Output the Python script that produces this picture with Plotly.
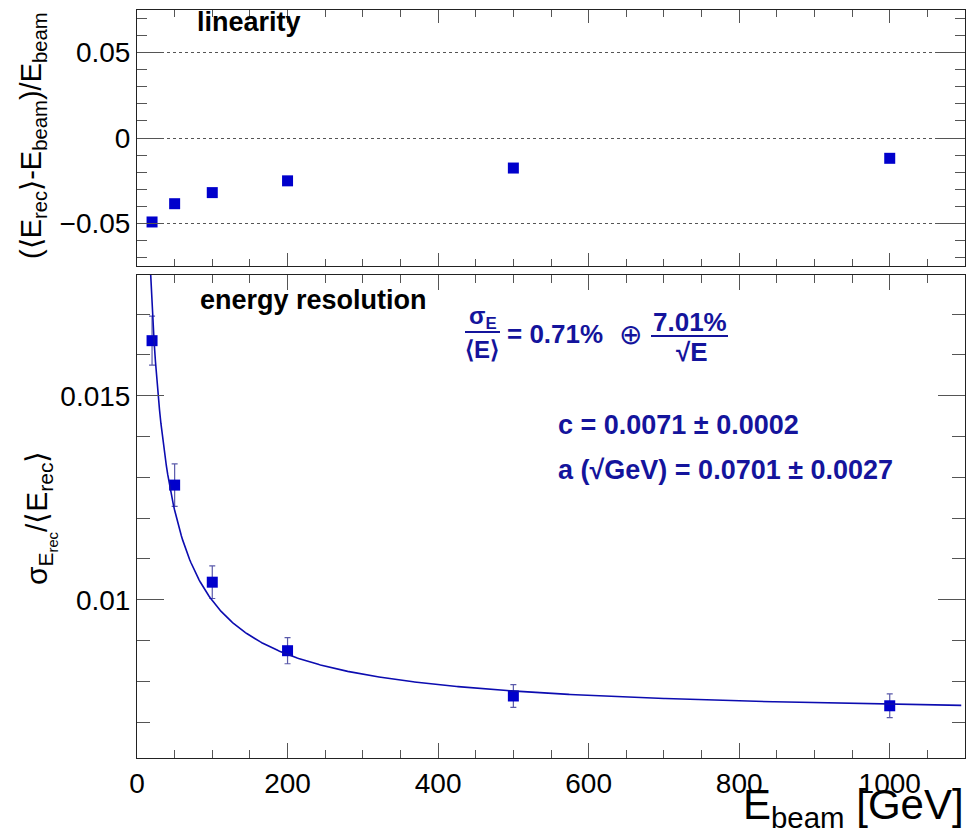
import numpy as np
import plotly.graph_objects as go

# ---------------- data ----------------
E_beam = [20, 50, 100, 200, 500, 1000]
linearity = [-0.0492, -0.0385, -0.0320, -0.0251, -0.0176, -0.0119]
resolution = [0.01635, 0.01281, 0.01043, 0.00875, 0.00764, 0.00740]
resolution_err = [0.0006, 0.00052, 0.0004, 0.00032, 0.00028, 0.00029]
fit_c = 0.0071   # constant term
fit_a = 0.0701   # stochastic term (sqrt(GeV))

# fit curve sigma/E = c (+) a/sqrt(E)
E_fit = np.linspace(10, 1095, 600)
res_fit = np.sqrt(fit_c**2 + fit_a**2 / E_fit)

# ---------------- layout geometry ----------------
W, H = 967, 838
ML, MR, MT, MB = 137, 2, 10, 80
PW, PH = W - ML - MR, H - MT - MB


def px(xp):
    return (xp - ML) / PW


def py(yp):
    return (H - MB - yp) / PH


FONT = "Liberation Sans, Arial, Helvetica, sans-serif"
MARK = "#0000cc"
TXT = "#14149c"

fig = go.Figure()

# top: linearity
fig.add_trace(go.Scatter(
    x=E_beam, y=linearity, mode="markers",
    marker=dict(symbol="square", size=11, color=MARK),
    xaxis="x2", yaxis="y2", showlegend=False))

# bottom: resolution
fig.add_trace(go.Scatter(
    x=E_beam, y=resolution, mode="markers",
    marker=dict(symbol="square", size=11, color=MARK),
    error_y=dict(type="data", array=resolution_err, visible=True,
                 color="#5a5aaa", thickness=1.2, width=3),
    xaxis="x", yaxis="y", showlegend=False))

fig.add_trace(go.Scatter(
    x=E_fit, y=res_fit, mode="lines",
    line=dict(color="#0c0cb0", width=1.6),
    xaxis="x", yaxis="y", showlegend=False, hoverinfo="skip"))

common_axis = dict(
    showline=True, linecolor="#222", linewidth=1, mirror="ticks",
    ticks="inside", tickcolor="#555", tickwidth=1,
    zeroline=False, showgrid=False,
    tickfont=dict(family=FONT, size=28, color="black"),
)

top_y0 = py(266)
bot_y1 = py(275)

fig.update_layout(
    width=W, height=H,
    margin=dict(l=ML, r=MR, t=MT, b=MB),
    paper_bgcolor="white", plot_bgcolor="white",
    font=dict(family=FONT, color="black"),
    xaxis=dict(common_axis, domain=[0, 1], range=[0, 1100], anchor="y",
               dtick=200, tick0=0, ticklen=15,
               minor=dict(dtick=50, ticklen=8, ticks="inside", tickcolor="#555")),
    yaxis=dict(common_axis, domain=[0, bot_y1], range=[0.00612, 0.01796], anchor="x",
               dtick=0.005, tick0=0, ticklen=27,
               minor=dict(dtick=0.001, ticklen=13, ticks="inside", tickcolor="#555")),
    xaxis2=dict(common_axis, domain=[0, 1], range=[0, 1100], anchor="y2",
                dtick=200, tick0=0, ticklen=13, showticklabels=False,
                minor=dict(dtick=50, ticklen=7, ticks="inside", tickcolor="#555")),
    yaxis2=dict(common_axis, domain=[top_y0, 1], range=[-0.075, 0.075], anchor="x2",
                dtick=0.05, tick0=0, ticklen=27,
                showgrid=True, gridcolor="#555", griddash="dot", gridwidth=1,
                minor=dict(dtick=0.01, ticklen=10, ticks="inside", tickcolor="#555")),
)

ann = []


def add_text(text, xp, yp, size, color="black", xanchor="center", yanchor="middle",
             angle=0, bold=False):
    ann.append(dict(
        text=f"<b>{text}</b>" if bold else text,
        x=px(xp), y=py(yp), xref="paper", yref="paper",
        xanchor=xanchor, yanchor=yanchor, showarrow=False, textangle=angle,
        font=dict(family=FONT, size=size, color=color)))


# panel labels
add_text("linearity", 249, 22, 27, bold=True)
add_text("energy resolution", 313, 300, 27, bold=True)

# formula
add_text("σ<sub>E</sub>", 483, 317, 24, TXT, bold=True)
add_text("⟨E⟩", 482, 349, 24, TXT, bold=True)
add_text("= 0.71%", 505, 334, 26, TXT, xanchor="left", bold=True)
add_text("⊕", 630, 335, 28, TXT)
add_text("7.01%", 690, 322, 26, TXT, bold=True)
add_text("√E", 692, 352, 26, TXT, bold=True)
add_text("c = 0.0071 ± 0.0002", 556, 425, 27, TXT, xanchor="left", bold=True)
add_text("a (√GeV) = 0.0701 ± 0.0027", 556, 470, 27, TXT, xanchor="left", bold=True)

# axis titles
add_text("(⟨E<sub>rec</sub>⟩-E<sub>beam</sub>)/E<sub>beam</sub>", 33, 136, 29, angle=-90)
add_text("σ<sub>E<sub>rec</sub></sub>/⟨E<sub>rec</sub>⟩", 40, 518, 30, angle=-90)
add_text("E<sub>beam</sub> [GeV]", 966, 807, 42, xanchor="right")

fig.update_layout(annotations=ann)

# fraction bars
shapes = [
    dict(type="line", xref="paper", yref="paper", x0=px(465), x1=px(500),
         y0=py(332), y1=py(332), line=dict(color=TXT, width=2)),
    dict(type="line", xref="paper", yref="paper", x0=px(651), x1=px(728),
         y0=py(336), y1=py(336), line=dict(color=TXT, width=2)),
]
fig.update_layout(shapes=shapes)

fig.write_html("out.html")
